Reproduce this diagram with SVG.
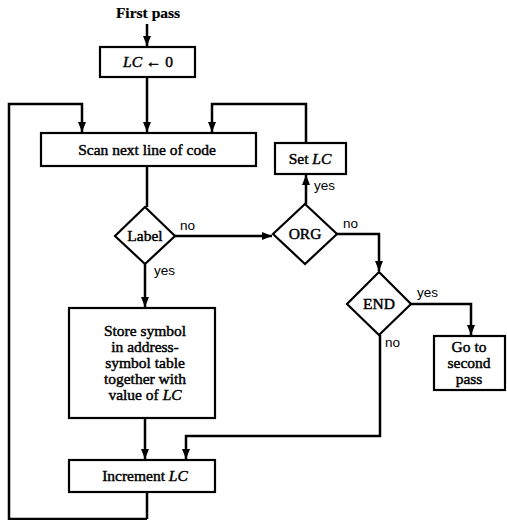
<svg xmlns="http://www.w3.org/2000/svg" width="507" height="520" viewBox="0 0 507 520">
<defs>
<marker id="ah" markerUnits="userSpaceOnUse" markerWidth="10" markerHeight="12" refX="10" refY="4" orient="auto">
<path d="M0,0 L10,4 L0,8 Z" fill="#000"/>
</marker>
<style>
.n{fill:#fff;stroke:#000;stroke-width:2.2}
.c{fill:none;stroke:#000;stroke-width:2.5}
.t{font-family:"Liberation Serif","Times New Roman",serif;font-size:15.5px;fill:#000;stroke:#000;stroke-width:0.45;text-anchor:middle}
.l{font-family:"Liberation Sans",Arial,sans-serif;font-size:13.5px;fill:#000}
.i{font-style:italic}
</style>
</defs>
<rect width="507" height="520" fill="#fff"/>
<g id="connectors">
<path class="c" d="M147,24 V46" marker-end="url(#ah)"/>
<path class="c" d="M147,77 V132" marker-end="url(#ah)"/>
<path class="c" d="M147,519 H9 V104 H82 V132" marker-end="url(#ah)"/>
<path class="c" d="M306,143 V104 H212 V132" marker-end="url(#ah)"/>
<path class="c" d="M147,166 V207"/>
<path class="c" d="M175,236 H272" marker-end="url(#ah)"/>
<path class="c" d="M306,204 V175" marker-end="url(#ah)"/>
<path class="c" d="M145,263 V307" marker-end="url(#ah)"/>
<path class="c" d="M337,234 H379 V271" marker-end="url(#ah)"/>
<path class="c" d="M411,304 H471 V335" marker-end="url(#ah)"/>
<path class="c" d="M380,335 V436 H186 V459" marker-end="url(#ah)"/>
<path class="c" d="M145,418 V459" marker-end="url(#ah)"/>
<path class="c" d="M147,492 V519"/>
</g>
<g id="start"><text class="t" x="148" y="18" font-weight="bold" style="stroke-width:0.2">First pass</text></g>
<g id="init"><rect class="n" x="100" y="47" width="95" height="30"/><text class="t" x="148" y="67"><tspan class="i">LC</tspan> ← 0</text></g>
<g id="scan"><rect class="n" x="41" y="133" width="215" height="33"/><text class="t" x="147" y="155">Scan next line of code</text></g>
<g id="label"><polygon class="n" points="145,207 175,236 145,264 115,236"/><text class="t" x="145" y="241">Label</text></g>
<g id="org"><polygon class="n" points="305,204 337,234 305,264 273,234"/><text class="t" x="305" y="239">ORG</text></g>
<g id="setlc"><rect class="n" x="275" y="143" width="71" height="31"/><text class="t" x="310" y="164">Set <tspan class="i">LC</tspan></text></g>
<g id="end"><polygon class="n" points="379,272 411,304 379,335 347,304"/><text class="t" x="379" y="309">END</text></g>
<g id="store"><rect class="n" x="69" y="308" width="146" height="110"/>
<text class="t" x="145" y="336">Store symbol</text>
<text class="t" x="145" y="352">in address-</text>
<text class="t" x="145" y="368">symbol table</text>
<text class="t" x="145" y="384">together with</text>
<text class="t" x="145" y="400">value of <tspan class="i">LC</tspan></text></g>
<g id="increment"><rect class="n" x="69" y="460" width="146" height="32"/><text class="t" x="145" y="481">Increment <tspan class="i">LC</tspan></text></g>
<g id="second"><rect class="n" x="434" y="336" width="71" height="54"/>
<text class="t" x="469" y="352">Go to</text>
<text class="t" x="469" y="368">second</text>
<text class="t" x="469" y="384">pass</text></g>
<g id="labels">
<text class="l" x="180" y="230">no</text>
<text class="l" x="154" y="275">yes</text>
<text class="l" x="314" y="190">yes</text>
<text class="l" x="343" y="228">no</text>
<text class="l" x="417" y="297">yes</text>
<text class="l" x="385" y="347">no</text>
</g>
</svg>
